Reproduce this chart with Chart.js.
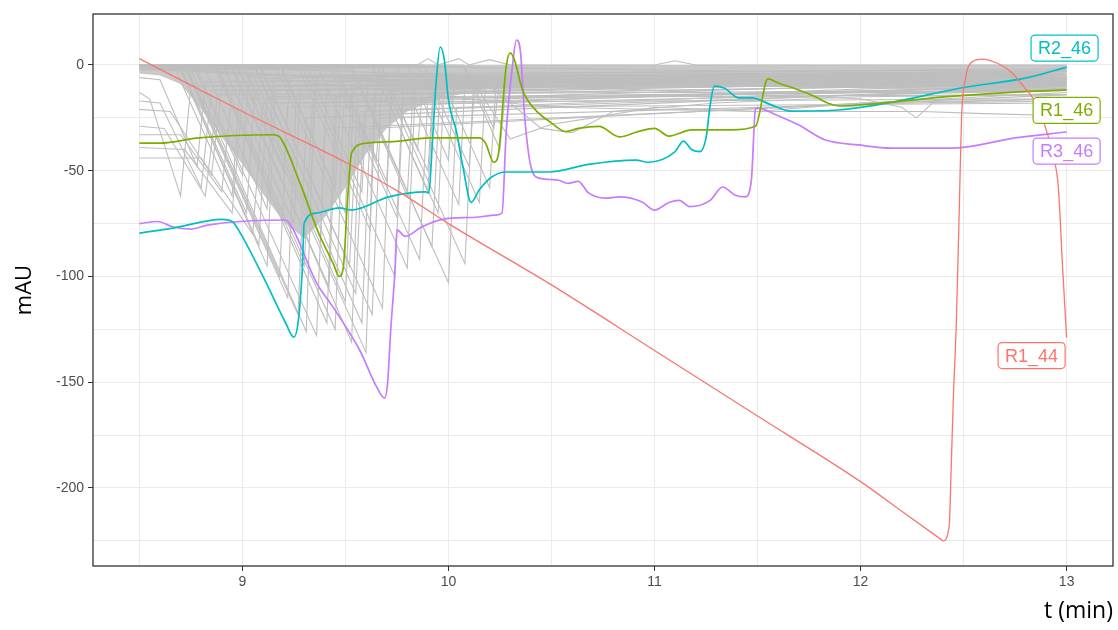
<!DOCTYPE html>
<html>
<head>
<meta charset="utf-8">
<script src="https://cdn.jsdelivr.net/npm/chart.js@4.4.1/dist/chart.umd.min.js"></script>
<style>
  html, body { margin: 0; padding: 0; background: #fff; }
  canvas { display: block; }
</style>
</head>
<body>
<canvas id="chromatogram" width="1118" height="630"></canvas>
<script>
// axis ticks: time in minutes, signal in mAU (only every 2nd is labelled)
const xTicks = [8.5, 9, 9.5, 10, 10.5, 11, 11.5, 12, 12.5, 13];
const yTicks = [-225, -200, -175, -150, -125, -100, -75, -50, -25, 0];

// highlighted runs
const r144T = [8.5, 9.0, 9.5, 9.76, 10.0, 10.5, 11.0, 11.5, 12.0, 12.2, 12.37, 12.39, 12.4, 12.43, 12.44, 12.45, 12.465, 12.48, 12.49, 12.51, 12.54, 12.59, 12.65, 12.73, 12.79, 12.86, 12.905, 12.94, 12.96, 12.98, 13.0];
const r144V = [3, -22, -46, -60, -75, -104, -135, -166, -197, -211, -222.9, -224.3, -225, -218, -190, -158, -121, -64, -25, -6, 1.4, 2.8, 1.4, -3.3, -10, -19.6, -32, -45, -58, -95, -129];

const r246T = [8.5, 8.67, 8.9, 8.95, 8.99, 9.1, 9.21, 9.25, 9.27, 9.29, 9.3, 9.36, 9.47, 9.53, 9.71, 9.89, 9.905, 9.92, 9.94, 9.96, 9.98, 10.0, 10.04, 10.07, 10.11, 10.15, 10.21, 10.28, 10.49, 10.68, 10.91, 10.97, 11.1, 11.14, 11.18, 11.22, 11.25, 11.27, 11.29, 11.34, 11.41, 11.47, 11.57, 11.66, 11.89, 12.16, 12.48, 12.81, 13.0];
const r246V = [-79.5, -77, -73, -74, -79.5, -100, -122, -128.7, -122, -98, -74.7, -70, -67.6, -68.6, -62.4, -60, -60.5, -40, -8.5, 8.5, 2.4, -16.5, -32, -48, -65, -59, -53, -50.6, -50.6, -47, -45, -46, -41, -36, -40, -41, -34.5, -19, -10, -11, -15.6, -15.6, -19, -21.8, -21.3, -17.5, -11, -6, -1];

const r146T = [8.5, 8.6, 8.79, 9.15, 9.18, 9.28, 9.37, 9.44, 9.47, 9.49, 9.51, 9.53, 9.6, 9.76, 9.91, 10.15, 10.18, 10.22, 10.24, 10.28, 10.3, 10.32, 10.36, 10.42, 10.5, 10.57, 10.63, 10.73, 10.83, 10.92, 11.0, 11.07, 11.18, 11.27, 11.37, 11.49, 11.55, 11.6, 11.7, 11.78, 11.84, 11.9, 12.1, 12.42, 12.75, 13.0];
const r146V = [-37, -37, -34.5, -33, -34, -56, -79.5, -93.7, -100, -95.5, -64, -41.6, -37, -36, -34.5, -34.5, -37, -46, -43.5, -0.9, 5.7, 2.4, -12, -21, -27.4, -31.5, -30, -29, -34, -31.5, -30, -33.6, -30.7, -30.7, -30.7, -29, -6.6, -8.5, -11.8, -15, -18, -19.4, -18, -15, -12.8, -11.8];

const r346T = [8.5, 8.59, 8.66, 8.75, 8.83, 9.21, 9.24, 9.36, 9.44, 9.57, 9.65, 9.69, 9.705, 9.72, 9.74, 9.75, 9.79, 9.87, 9.97, 10.13, 10.23, 10.26, 10.28, 10.31, 10.33, 10.35, 10.37, 10.4, 10.44, 10.53, 10.58, 10.63, 10.68, 10.76, 10.83, 10.94, 11.0, 11.07, 11.12, 11.17, 11.27, 11.33, 11.39, 11.44, 11.47, 11.49, 11.5, 11.6, 11.7, 11.83, 11.99, 12.15, 12.45, 12.75, 13.0];
const r346V = [-75, -74, -76.5, -77.6, -75.7, -73.3, -76.6, -103, -114.5, -135, -152, -157.5, -150, -125, -98, -78, -81, -76.6, -73, -72, -71, -70, -32, -1, 11.8, 5.7, -24.6, -48, -53.5, -54.4, -56, -55, -60.5, -63, -62.4, -64.8, -68.6, -65, -64, -67, -64, -57.7, -61.5, -62.4, -54.4, -21, -20.4, -24, -28.4, -35.5, -37.8, -39.3, -39.3, -34.5, -31.7];

// the other runs (grey), one [t, mAU] list per run, estimated
const greyRuns = [
  [[8.5, 0], [9.85, 0], [9.9, 3], [9.95, 0], [10.05, 3], [10.1, 0], [10.2, 2.5], [10.3, 0], [11.0, 0], [11.1, 2], [11.2, 0], [13, 0]],
  [[8.5, -2], [10, -1], [11.5, -3], [13, -2]],
  [[8.5, -1], [8.67, -1], [8.95, -62], [8.99, -8], [13, -4]],
  [[8.5, 0], [8.70, -1], [9.02, -70], [9.06, -12], [13, -6]],
  [[8.5, -1], [8.70, -2], [9.08, -85], [9.12, -15], [13, -9]],
  [[8.5, 0], [8.69, 0], [9.12, -95], [9.16, -10], [13, -3]],
  [[8.5, -2], [8.73, -2], [9.18, -100], [9.22, -20], [13, -12]],
  [[8.5, 0], [8.72, -1], [9.22, -110], [9.26, -18], [13, -7]],
  [[8.5, -1], [8.73, -1], [9.27, -118], [9.31, -25], [13, -10]],
  [[8.5, 0], [8.74, 0], [9.31, -126], [9.35, -12], [13, -5]],
  [[8.5, -2], [8.78, -2], [9.36, -128], [9.40, -30], [13, -14]],
  [[8.5, 0], [8.86, 0], [9.41, -122], [9.45, -15], [13, -3]],
  [[8.5, -1], [8.88, -1], [9.45, -125], [9.49, -20], [13, -8]],
  [[8.5, 0], [9.00, 0], [9.50, -112], [9.54, -10], [13, -6]],
  [[8.5, -1], [9.06, -1], [9.55, -108], [9.59, -22], [13, -11]],
  [[8.5, 0], [8.98, 0], [9.60, -136], [9.64, -14], [13, -9]],
  [[8.5, -2], [9.09, -2], [9.63, -118], [9.67, -25], [13, -16]],
  [[8.5, 0], [9.16, 0], [9.68, -115], [9.72, -12], [13, -5]],
  [[8.5, -1], [9.29, -1], [9.74, -100], [9.78, -18], [13, -10]],
  [[8.5, 0], [9.36, 0], [9.80, -96], [9.84, -10], [13, -4]],
  [[8.5, -1], [9.44, -1], [9.86, -92], [9.90, -15], [13, -12]],
  [[8.5, 0], [9.53, 0], [9.92, -86], [9.96, -8], [13, -6]],
  [[8.5, -2], [9.53, -2], [10.00, -103], [10.04, -20], [13, -18]],
  [[8.5, 0], [9.65, 0], [10.08, -94], [10.12, -12], [13, -8]],
  [[8.5, 0], [9.85, 0], [10.15, -65], [10.18, -8], [13, -4]],
  [[8.5, -1], [9.94, -1], [10.20, -58], [10.23, -10], [13, -7]],
  [[8.5, -1], [9.63, -1], [9.95, -70], [9.98, -6], [13, -10]],
  [[8.5, 0], [9.63, 0], [9.90, -60], [9.93, -9], [13, -5]],
  [[8.5, 0], [9.42, 0], [9.75, -72], [9.78, -10], [13, -6]],
  [[8.5, -1], [9.27, -1], [9.62, -78], [9.65, -8], [13, -9]],
  [[8.5, 0], [9.18, 0], [9.50, -70], [9.53, -10], [13, -8]],
  [[8.5, 0], [9.01, 0], [9.38, -82], [9.41, -8], [13, -4]],
  [[8.5, -1], [8.91, -1], [9.25, -75], [9.28, -12], [13, -7]],
  [[8.5, 0], [8.81, 0], [9.12, -68], [9.15, -6], [13, -3]],
  [[8.5, 0], [8.76, 0], [9.00, -52], [9.03, -5], [13, -2]],
  [[8.5, 0], [9.67, 0], [9.90, -50], [9.93, -6], [13, -6]],
  [[8.5, -1], [9.75, -1], [10.05, -66], [10.08, -8], [13, -7]],
  [[8.5, 0], [9.88, 0], [10.10, -48], [10.13, -6], [13, -5]],
  [[8.5, 0], [9.52, 0], [9.80, -62], [9.83, -9], [13, -8]],
  [[8.5, 0], [9.45, 0], [9.70, -55], [9.73, -7], [13, -4]],
  [[8.5, 0], [9.31, 0], [9.58, -60], [9.61, -6], [13, -3]],
  [[8.5, -1], [9.19, -1], [9.45, -58], [9.48, -8], [13, -6]],
  [[8.5, 0], [9.06, 0], [9.33, -60], [9.36, -5], [13, -5]],
  [[8.5, 0], [8.97, 0], [9.20, -50], [9.23, -6], [13, -4]],
  [[8.5, 0], [10.07, 0], [10.25, -40], [10.28, -8], [13, -6]],
  [[8.5, -1], [10.08, -1], [10.22, -30], [10.25, -6], [13, -9]],
  [[8.5, 0], [9.80, 0], [10.00, -45], [10.03, -5], [13, -3]],
  [[8.5, 0], [9.67, 0], [9.85, -40], [9.88, -4], [13, -2]],
  [[8.5, 0], [9.45, 0], [9.65, -45], [9.68, -5], [13, -5]],
  [[8.5, -1], [8.87, -1], [9.30, -95], [9.34, -18], [13, -10]],
  [[8.5, 0], [8.94, 0], [9.42, -105], [9.46, -14], [13, -7]],
  [[8.5, -1], [9.09, -1], [9.52, -95], [9.56, -16], [13, -12]],
  [[8.5, 0], [9.03, 0], [9.58, -122], [9.62, -30], [13, -13]],
  [[8.5, 0], [8.95, 0], [9.53, -131], [9.57, -22], [13, -9]],
  [[8.5, -6], [8.6, -7], [8.78, -48], [8.82, -8], [13, -3]],
  [[8.5, -13], [8.55, -16], [8.70, -62], [8.75, -10], [13, -6]],
  [[8.5, -17], [8.6, -18], [8.80, -58], [8.85, -12], [13, -8]],
  [[8.5, -21], [8.65, -22], [8.85, -52], [8.90, -10], [13, -10]],
  [[8.5, -29], [8.62, -30], [8.82, -62], [8.88, -14], [13, -12]],
  [[8.5, -33], [8.70, -33], [8.90, -60], [8.95, -12], [13, -9]],
  [[8.5, -39], [8.72, -40], [8.95, -70], [9.00, -16], [13, -14]],
  [[8.5, -44], [8.80, -44], [9.05, -80], [9.10, -18], [13, -16]],
  [[8.5, 0], [10.1, -5], [10.3, -35], [10.5, -28], [10.7, -25], [11.0, -20], [11.5, -22], [12, -18], [13, -16]],
  [[8.5, -1], [10.2, -10], [10.45, -30], [10.6, -32], [10.8, -22], [11.3, -18], [12, -15], [13, -14]],
  [[8.5, -2], [11.5, -14], [12.0, -16], [12.2, -20], [12.27, -25], [12.35, -18], [13, -17]],
  [[8.5, 0], [10.5, -20], [11.5, -22], [12.3, -22], [12.6, -23], [13, -24]]
];

// lower edge of the solid part of the grey bundle (its top sits at 0)
const bundleT = [8.5, 8.6, 8.7, 8.8, 8.9, 9.0, 9.1, 9.2, 9.3, 9.4, 9.5, 9.6, 9.7, 9.8, 9.9, 10.0, 10.1, 10.2, 10.3, 10.5, 11.0, 11.5, 12.0, 12.5, 13.0];
const bundleLow = [-4, -5, -9, -21, -34, -47, -61, -74, -82, -72, -58, -42, -30, -22, -18, -15, -13, -11, -10, -9, -9, -10, -11, -12, -12];

// run labels and where they sit (data units)
const labelNames = ['R2_46', 'R1_46', 'R3_46', 'R1_44'];
const labelT = [12.99, 13.0, 13.0, 12.83];
const labelV = [8, -21.5, -40.7, -137.4];

const RED = '#F8766D', GREEN = '#7CAE00', CYAN = '#00BFC4', PURPLE = '#C77CFF';
const GREY = '#bebebe';
const labelColors = [CYAN, GREEN, PURPLE, RED];

function toPoints(ts, vs) {
    return ts.map((t, i) => ({ x: t, y: vs[i] }));
}

const datasets = [];

// highlighted runs on top
[[r144T, r144V, RED, 1.3], [r146T, r146V, GREEN, 1.7], [r246T, r246V, CYAN, 1.7], [r346T, r346V, PURPLE, 1.7]].forEach(([ts, vs, col, w]) => {
    datasets.push({
        data: toPoints(ts, vs),
        borderColor: col,
        borderWidth: w,
        pointRadius: 0,
        cubicInterpolationMode: 'monotone',
        fill: false,
        order: 0
    });
});

greyRuns.forEach(run => {
    datasets.push({
        data: run.map(p => ({ x: p[0], y: p[1] })),
        borderColor: GREY,
        borderWidth: 1.1,
        pointRadius: 0,
        tension: 0,
        fill: false,
        order: 1
    });
});

datasets.push({
    data: toPoints(bundleT, bundleLow),
    borderColor: 'rgba(0,0,0,0)',
    borderWidth: 0,
    backgroundColor: 'rgba(190,190,190,0.85)',
    pointRadius: 0,
    tension: 0,
    fill: { value: 0 },
    order: 2
});

// ggplot style panel border
const panelBorder = {
    id: 'panelBorder',
    afterDatasetsDraw(chart) {
        const { ctx, chartArea: a } = chart;
        ctx.save();
        ctx.strokeStyle = '#333333';
        ctx.lineWidth = 1.3;
        ctx.strokeRect(a.left, a.top, a.right - a.left, a.bottom - a.top);
        ctx.restore();
    }
};

// boxed run labels at the right edge
const runLabels = {
    id: 'runLabels',
    afterDraw(chart) {
        const { ctx, scales: { x, y } } = chart;
        ctx.save();
        ctx.font = '18px "Liberation Sans", Arial, sans-serif';
        ctx.textAlign = 'center';
        ctx.textBaseline = 'middle';
        labelNames.forEach((name, i) => {
            const cx = x.getPixelForValue(labelT[i]);
            const cy = y.getPixelForValue(labelV[i]);
            const w = ctx.measureText(name).width + 14;
            const h = 26;
            ctx.beginPath();
            ctx.roundRect(cx - w / 2, cy - h / 2, w, h, 4);
            ctx.fillStyle = '#ffffff';
            ctx.fill();
            ctx.lineWidth = 1.2;
            ctx.strokeStyle = labelColors[i];
            ctx.stroke();
            ctx.fillStyle = labelColors[i];
            ctx.fillText(name, cx, cy + 1);
        });
        ctx.restore();
    }
};

const tickFont = { family: '"Liberation Sans", Arial, sans-serif', size: 14 };

new Chart(document.getElementById('chromatogram').getContext('2d'), {
    type: 'line',
    data: { datasets: datasets },
    options: {
        responsive: false,
        animation: false,
        layout: { padding: { top: 14, right: 5, left: 0, bottom: 0 } },
        plugins: {
            legend: { display: false },
            tooltip: { enabled: false }
        },
        scales: {
            x: {
                type: 'linear',
                min: 8.275,
                max: 13.225,
                afterBuildTicks: s => { s.ticks = xTicks.map(v => ({ value: v })); },
                afterFit: s => { s.height = 64; },
                border: { display: false },
                grid: {
                    color: '#ebebeb',
                    lineWidth: 1,
                    tickLength: 5,
                    tickWidth: 1,
                    tickColor: c => (c.tick && Number.isInteger(c.tick.value)) ? '#333333' : 'rgba(0,0,0,0)'
                },
                ticks: {
                    autoSkip: false,
                    maxRotation: 0,
                    padding: 3,
                    color: '#4d4d4d',
                    font: tickFont,
                    callback: v => Number.isInteger(v) ? String(v) : ''
                },
                title: {
                    display: true,
                    text: 't (min)',
                    align: 'end',
                    color: '#000000',
                    font: { family: '"Open Sans", "Noto Sans", sans-serif', size: 23 },
                    padding: { top: 0, bottom: 5 }
                }
            },
            y: {
                type: 'linear',
                min: -236.9,
                max: 24.1,
                afterBuildTicks: s => { s.ticks = yTicks.map(v => ({ value: v })); },
                afterFit: s => { s.width = 93; },
                border: { display: false },
                grid: {
                    color: '#ebebeb',
                    lineWidth: 1,
                    tickLength: 5,
                    tickWidth: 1,
                    tickColor: c => (c.tick && c.tick.value % 50 === 0) ? '#333333' : 'rgba(0,0,0,0)'
                },
                ticks: {
                    padding: 4,
                    color: '#4d4d4d',
                    font: tickFont,
                    callback: v => (v % 50 === 0) ? String(v) : ''
                },
                title: {
                    display: true,
                    text: 'mAU',
                    color: '#000000',
                    font: { family: '"Open Sans", "Noto Sans", sans-serif', size: 22 },
                    padding: { top: 12, bottom: 0 }
                }
            }
        }
    },
    plugins: [panelBorder, runLabels]
});
</script>
</body>
</html>
